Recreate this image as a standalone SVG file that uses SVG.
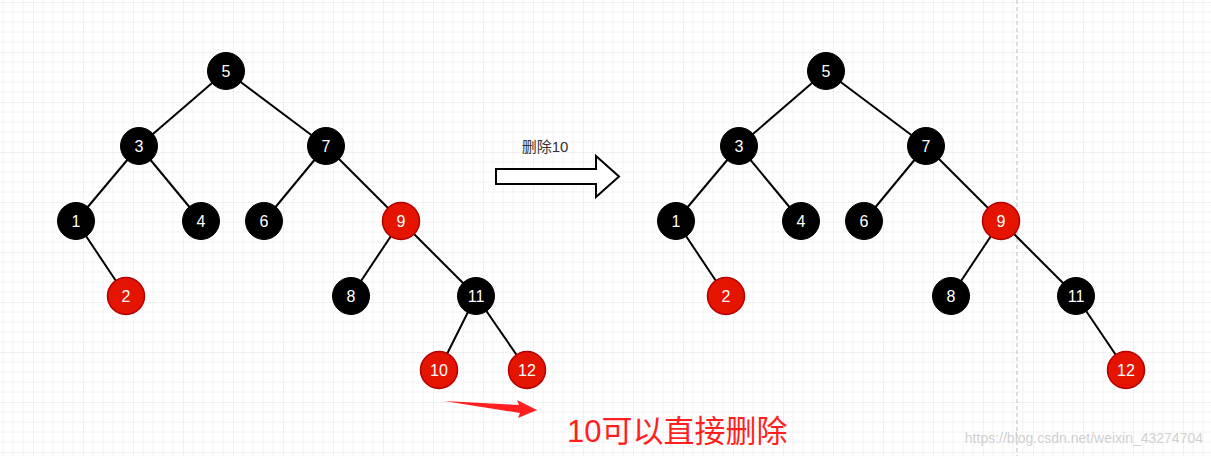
<svg xmlns="http://www.w3.org/2000/svg" width="1211" height="456" viewBox="0 0 1211 456">
<defs>
<pattern id="g" width="50" height="50" patternUnits="userSpaceOnUse" x="33" y="2">
<path d="M10 0V50M20 0V50M30 0V50M40 0V50M0 10H50M0 20H50M0 30H50M0 40H50" stroke="#f2f2f2" stroke-width="1" fill="none"/>
<path d="M0 0V50M0 0H50" stroke="#e3e3e3" stroke-width="1" fill="none"/>
</pattern>
</defs>
<style>
.b circle{fill:#000;stroke:#000}
.r circle{fill:#e51400;stroke:#b20000;stroke-width:1.5}
text{font-family:"Liberation Sans",Arial,sans-serif}
.n text{fill:#fff;font-size:16px;text-anchor:middle;dominant-baseline:central}
#edges line{stroke:#000;stroke-width:2}
</style>
<rect width="1211" height="456" fill="#fff"/>
<rect width="1211" height="456" fill="url(#g)"/>
<line x1="1017" y1="0" x2="1017" y2="456" stroke="#bbb" stroke-dasharray="4 3"/>
<g id="edges">
<line x1="226" y1="71" x2="139" y2="146"/><line x1="226" y1="71" x2="326" y2="146"/>
<line x1="139" y1="146" x2="76" y2="221"/><line x1="139" y1="146" x2="201" y2="221"/>
<line x1="326" y1="146" x2="264" y2="221"/><line x1="326" y1="146" x2="401" y2="221"/>
<line x1="76" y1="221" x2="126" y2="296"/><line x1="401" y1="221" x2="351" y2="296"/>
<line x1="401" y1="221" x2="476" y2="296"/><line x1="476" y1="296" x2="439" y2="370"/>
<line x1="476" y1="296" x2="527" y2="370"/>
<line x1="826" y1="71" x2="739" y2="146"/><line x1="826" y1="71" x2="926" y2="146"/>
<line x1="739" y1="146" x2="676" y2="221"/><line x1="739" y1="146" x2="801" y2="221"/>
<line x1="926" y1="146" x2="864" y2="221"/><line x1="926" y1="146" x2="1001" y2="221"/>
<line x1="676" y1="221" x2="726" y2="296"/><line x1="1001" y1="221" x2="951" y2="296"/>
<line x1="1001" y1="221" x2="1076" y2="296"/><line x1="1076" y1="296" x2="1126" y2="370"/>
</g>
<g id="L5" class="n b"><circle cx="226" cy="71" r="18.5"/><text x="226" y="71">5</text></g>
<g id="L3" class="n b"><circle cx="139" cy="146" r="18.5"/><text x="139" y="146">3</text></g>
<g id="L7" class="n b"><circle cx="326" cy="146" r="18.5"/><text x="326" y="146">7</text></g>
<g id="L1" class="n b"><circle cx="76" cy="221" r="18.5"/><text x="76" y="221">1</text></g>
<g id="L4" class="n b"><circle cx="201" cy="221" r="18.5"/><text x="201" y="221">4</text></g>
<g id="L6" class="n b"><circle cx="264" cy="221" r="18.5"/><text x="264" y="221">6</text></g>
<g id="L9" class="n r"><circle cx="401" cy="221" r="18.5"/><text x="401" y="221">9</text></g>
<g id="L2" class="n r"><circle cx="126" cy="296" r="18.5"/><text x="126" y="296">2</text></g>
<g id="L8" class="n b"><circle cx="351" cy="296" r="18.5"/><text x="351" y="296">8</text></g>
<g id="L11" class="n b"><circle cx="476" cy="296" r="18.5"/><text x="476" y="296">11</text></g>
<g id="L10" class="n r"><circle cx="439" cy="370" r="18.5"/><text x="439" y="370">10</text></g>
<g id="L12" class="n r"><circle cx="527" cy="370" r="18.5"/><text x="527" y="370">12</text></g>
<g id="R5" class="n b"><circle cx="826" cy="71" r="18.5"/><text x="826" y="71">5</text></g>
<g id="R3" class="n b"><circle cx="739" cy="146" r="18.5"/><text x="739" y="146">3</text></g>
<g id="R7" class="n b"><circle cx="926" cy="146" r="18.5"/><text x="926" y="146">7</text></g>
<g id="R1" class="n b"><circle cx="676" cy="221" r="18.5"/><text x="676" y="221">1</text></g>
<g id="R4" class="n b"><circle cx="801" cy="221" r="18.5"/><text x="801" y="221">4</text></g>
<g id="R6" class="n b"><circle cx="864" cy="221" r="18.5"/><text x="864" y="221">6</text></g>
<g id="R9" class="n r"><circle cx="1001" cy="221" r="18.5"/><text x="1001" y="221">9</text></g>
<g id="R2" class="n r"><circle cx="726" cy="296" r="18.5"/><text x="726" y="296">2</text></g>
<g id="R8" class="n b"><circle cx="951" cy="296" r="18.5"/><text x="951" y="296">8</text></g>
<g id="R11" class="n b"><circle cx="1076" cy="296" r="18.5"/><text x="1076" y="296">11</text></g>
<g id="R12" class="n r"><circle cx="1126" cy="370" r="18.5"/><text x="1126" y="370">12</text></g>
<g id="bigArrow">
<polygon points="496,169 596,169 596,156 619,176.5 596,197 596,184 496,184" fill="#fff" stroke="#000" stroke-width="2"/>
<text x="545" y="152" font-size="15" fill="#333" text-anchor="middle" style="font-family:'Liberation Sans','Noto Sans CJK SC',sans-serif">删除10</text>
</g>
<g id="note">
<polygon points="444,401 519,405 517,400 537,410 518,418 520,413" fill="#ff1f1f"/>
<text x="567" y="442" font-size="31" fill="#ff1f1f" style="font-family:'Liberation Sans','Noto Sans CJK SC',sans-serif">10可以直接删除</text>
</g>
<text x="1203" y="443" font-size="14" fill="#d0d0d0" text-anchor="end">https://blog.csdn.net/weixin_43274704</text>
</svg>
